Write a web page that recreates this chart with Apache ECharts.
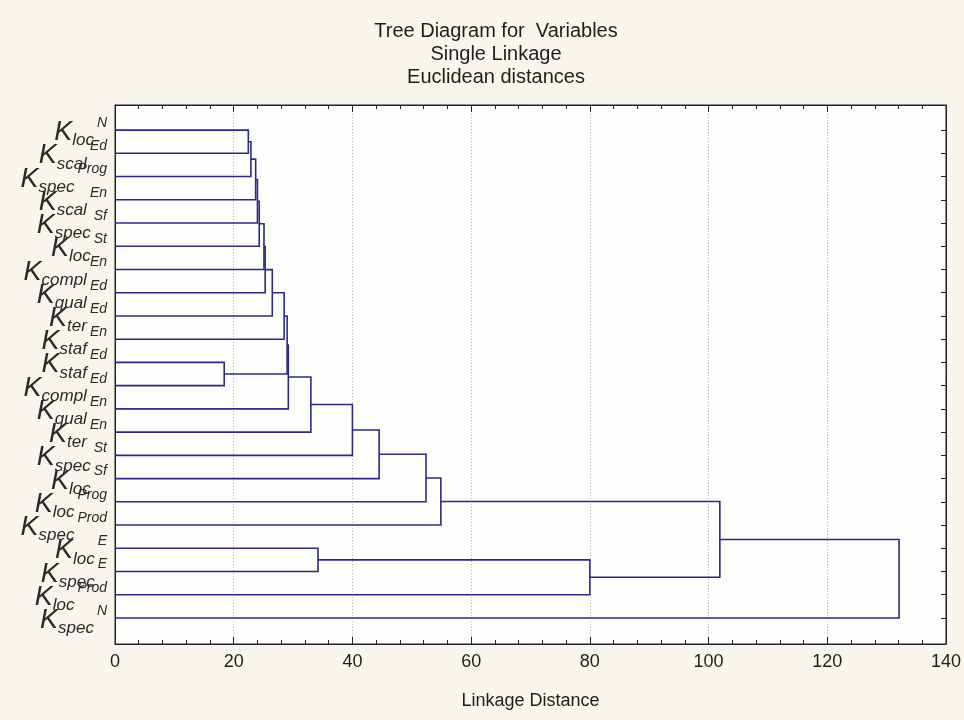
<!DOCTYPE html>
<html><head><meta charset="utf-8">
<script src="https://cdn.jsdelivr.net/npm/echarts@6/dist/echarts.min.js"></script>
<style>html,body{margin:0;padding:0;background:#f7f5ec}#c{width:964px;height:720px}</style>
</head><body><div id="c"></div>
<script>
// Leaves (top to bottom): K with subscript and superscript
const leafIndex = [0,1,2,3,4,5,6,7,8,9,10,11,12,13,14,15,16,17,18,19,20,21];
const leafSub = ['loc','scal','spec','scal','spec','loc','compl','qual','ter','staf','staf','compl','qual','ter','spec','loc','loc','spec','loc','spec','loc','spec'];
const leafSup = ['N','Ed','Prog','En','Sf','St','En','Ed','Ed','En','Ed','Ed','En','En','St','Sf','Prog','Prod','E','E','Prod','N'];
// Merges: node ids 0..21 are leaves, merge k creates node 22+k
const mergeA = [0,22,23,24,25,26,27,28,29,10,30,32,33,34,35,36,37,18,39,38,41];
const mergeB = [1,2,3,4,5,6,7,8,9,11,31,12,13,14,15,16,17,19,20,40,21];
const mergeDist = [22.46,22.9,23.7,24.0,24.3,25.1,25.3,26.5,28.5,18.4,29.0,29.2,33.0,40.0,44.5,52.4,54.9,34.2,80.0,101.9,132.1];
const xTicks = [0,20,40,60,80,100,120,140];

const FONT = 'Liberation Sans, Arial, sans-serif';
const nodeX = leafIndex.map(() => 0);
const nodeY = leafIndex.slice();
mergeA.forEach((a, k) => {
  const b = mergeB[k];
  nodeX.push(mergeDist[k]);
  nodeY.push((nodeY[a] + nodeY[b]) / 2);
});
const mergeData = mergeA.map((a, k) => [k]);
const evenRows = leafIndex.filter(i => i % 2 === 0);
const oddRows = leafIndex.filter(i => i % 2 === 1);

const labelRich = {
  k: {fontFamily: FONT, fontSize: 27, fontStyle: 'italic', lineHeight: 28, padding: [3,0,0,0], verticalAlign: 'top', color: '#2a2a2a'},
  s: {fontFamily: FONT, fontSize: 17, fontStyle: 'italic', lineHeight: 17, padding: [16,0,0,0], verticalAlign: 'top', color: '#2a2a2a'},
  u: {fontFamily: FONT, fontSize: 14, fontStyle: 'italic', lineHeight: 14, padding: [0,0,0,3], verticalAlign: 'top', color: '#2a2a2a'}
};
function labelAxis(rows, showLine) {
  return {
    type: 'value', position: 'left', inverse: true, min: -1.08, max: 22.12,
    axisLine: {show: showLine, onZero: false, lineStyle: {color: '#222'}},
    axisTick: {show: false},
    splitLine: {show: false},
    axisLabel: {
      customValues: rows, margin: 8, hideOverlap: false,
      formatter: v => `{k|K}{s|${leafSub[v]}}{u|${leafSup[v]}}`,
      rich: labelRich
    }
  };
}

const chart = echarts.init(document.getElementById('c'), null, {renderer: 'canvas'});
chart.setOption({
  backgroundColor: '#f7f5ec',
  animation: false,
  title: {
    text: 'Tree Diagram for  Variables\nSingle Linkage\nEuclidean distances',
    left: 491, top: 15, textAlign: 'center',
    textStyle: {fontFamily: FONT, fontSize: 20, lineHeight: 23, fontWeight: 'normal', color: '#1e1e1e'}
  },
  grid: {left: 115, right: 18, top: 105, bottom: 76, show: true, backgroundColor: '#fdfdfb', borderColor: '#222', borderWidth: 1},
  xAxis: [{
    type: 'value', position: 'bottom', min: xTicks[0], max: xTicks[xTicks.length-1], interval: 20,
    name: 'Linkage Distance', nameLocation: 'middle', nameGap: 48,
    nameTextStyle: {fontFamily: FONT, fontSize: 18, color: '#1e1e1e'},
    axisLine: {show: true, onZero: false, lineStyle: {color: '#222', width: 1}},
    axisTick: {show: true, inside: true, length: 7, lineStyle: {color: '#222'}},
    minorTick: {show: true, splitNumber: 5, length: 4, lineStyle: {color: '#222'}},
    axisLabel: {fontFamily: FONT, fontSize: 18, color: '#1e1e1e', margin: 9},
    splitLine: {show: true, lineStyle: {color: '#b8b8b8', type: [1, 2], width: 1}}
  }, {
    type: 'value', position: 'top', min: xTicks[0], max: xTicks[xTicks.length-1], interval: 20,
    axisLine: {show: true, onZero: false, lineStyle: {color: '#222', width: 1}},
    axisTick: {show: true, inside: true, length: 7, lineStyle: {color: '#222'}},
    minorTick: {show: true, splitNumber: 5, length: 4, lineStyle: {color: '#222'}},
    axisLabel: {show: false}, splitLine: {show: false}
  }],
  yAxis: [
    labelAxis(evenRows, true),
    {
      type: 'value', position: 'right', inverse: true, min: -1.08, max: 22.12,
      axisLine: {show: true, onZero: false, lineStyle: {color: '#222'}},
      axisTick: {show: true, inside: true, length: 5, customValues: leafIndex, lineStyle: {color: '#222'}},
      axisLabel: {show: false}, splitLine: {show: false}
    },
    labelAxis(oddRows, false)
  ],
  series: [{
    type: 'custom',
    xAxisIndex: 0, yAxisIndex: 0,
    data: mergeData,
    clip: false,
    renderItem: function (params, api) {
      const k = api.value(0);
      const a = mergeA[k], b = mergeB[k], d = mergeDist[k];
      const p1 = api.coord([nodeX[a], nodeY[a]]);
      const p2 = api.coord([d, nodeY[a]]);
      const p3 = api.coord([d, nodeY[b]]);
      const p4 = api.coord([nodeX[b], nodeY[b]]);
      return {
        type: 'polyline',
        shape: {points: [p1, p2, p3, p4]},
        style: {fill: null, stroke: '#2b2b84', lineWidth: 1.6}
      };
    }
  }]
});
</script>
</body></html>
